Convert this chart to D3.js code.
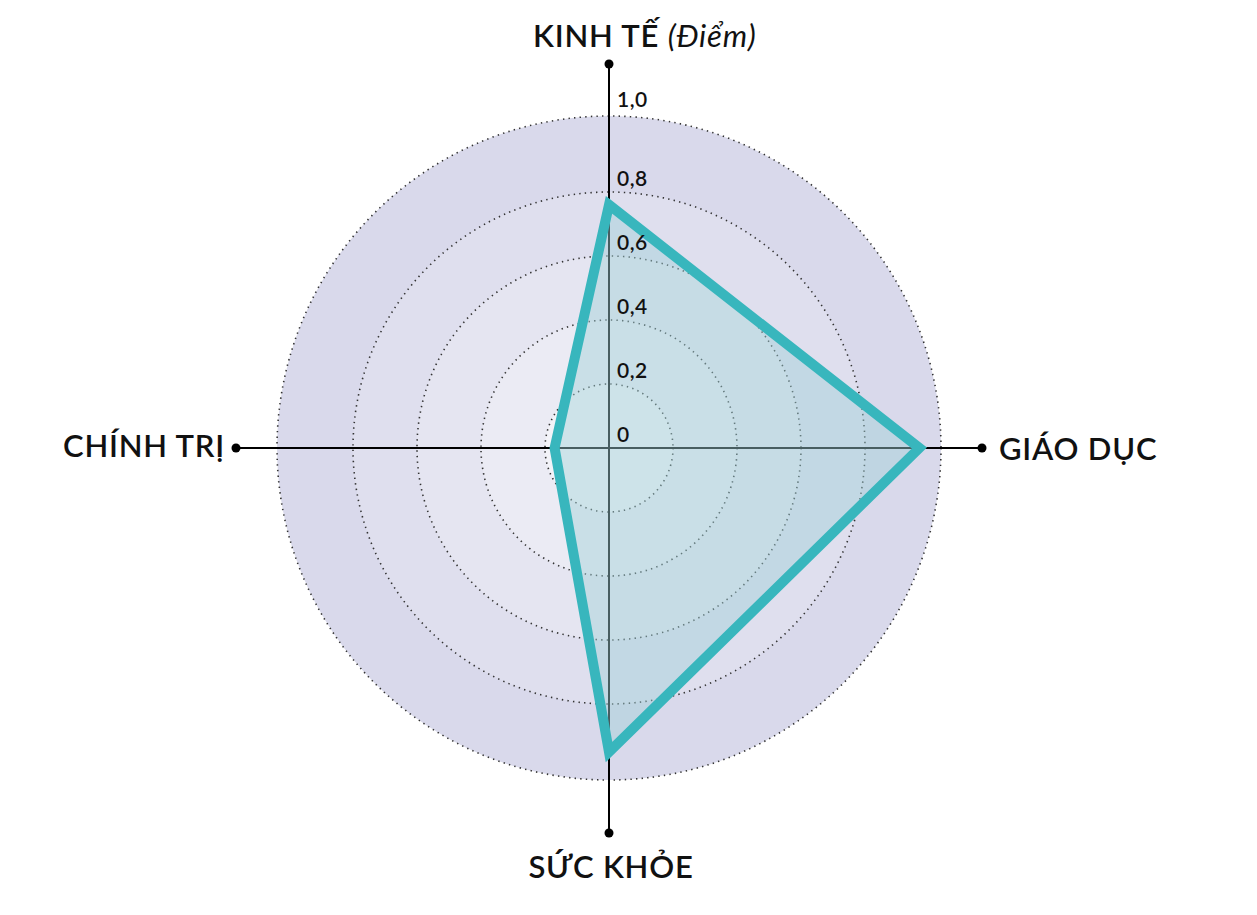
<!DOCTYPE html>
<html>
<head>
<meta charset="utf-8">
<script src="https://cdn.jsdelivr.net/npm/d3@7"></script>
<style>
  body { margin: 0; background: #fff; }
  svg { display: block; }
  text { font-family: "Lato", "Noto Sans", sans-serif; fill: #111; }
  text.cat { font-size: 31px; font-weight: 600; letter-spacing: 0.8px; }
</style>
</head>
<body>
<div class="chart"></div>
<script>
// du lieu
var categories = ["KINH TẾ", "GIÁO DỤC", "SỨC KHỎE", "CHÍNH TRỊ"]
var values = [0.76, 0.97, 0.95, 0.17]
var ticks = [0, 0.2, 0.4, 0.6, 0.8, 1.0]
var tickLabels = ["0", "0,2", "0,4", "0,6", "0,8", "1,0"]
var bandColors = ["#f3f3f8", "#ebebf4", "#e5e5f1", "#dfdfee", "#d9d9eb"]

var W = 1257, H = 915
var cx = 609, cy = 448
var outerR = 332

var svg = d3.select(".chart").append("svg").attr("width", W).attr("height", H)
var g = svg.append("g").attr("transform", "translate(" + cx + "," + cy + ")")

var r = d3.scaleLinear().domain([0, 1]).range([0, 320])
var angle = d3.scaleLinear().domain([0, categories.length]).range([0, 2 * Math.PI])

// nen: cac vong tu ngoai vao trong
var bandR = [outerR].concat(ticks.slice(1, 5).map(r).reverse())
g.selectAll("circle.band").data(bandR).enter()
  .append("circle").attr("class", "band")
  .attr("r", function(d) { return d })
  .style("fill", function(d, i) { return bandColors[bandColors.length - 1 - i] })

// vong cham
g.selectAll("circle.ring").data(bandR).enter()
  .append("circle").attr("class", "ring")
  .attr("r", function(d) { return d })
  .style("fill", "none")
  .attr("stroke", "#333")
  .attr("stroke-width", 1.6)
  .attr("stroke-dasharray", "1.4 4.2")

// truc
var axisLen = [384, 373, 385, 373]
var axes = g.selectAll("g.axis").data(categories).enter().append("g").attr("class", "axis")
axes.append("line")
  .attr("x1", 0).attr("y1", 0)
  .attr("x2", function(d, i) { return axisLen[i] * Math.sin(angle(i)) })
  .attr("y2", function(d, i) { return -axisLen[i] * Math.cos(angle(i)) })
  .attr("stroke", "#000").attr("stroke-width", 2)
axes.append("circle")
  .attr("cx", function(d, i) { return axisLen[i] * Math.sin(angle(i)) })
  .attr("cy", function(d, i) { return -axisLen[i] * Math.cos(angle(i)) })
  .attr("r", 4.5).style("fill", "#000")

// da giac
var line = d3.lineRadial()
  .angle(function(d, i) { return angle(i) })
  .radius(function(d) { return r(d) })
  .curve(d3.curveLinearClosed)

g.append("path").datum(values)
  .attr("d", line)
  .style("fill", "#9fd0d8")
  .style("fill-opacity", 0.45)
  .attr("stroke", "#38b6bd")
  .attr("stroke-width", 10)
  .attr("stroke-linejoin", "miter")
  .attr("stroke-miterlimit", 10)

// nhan truc doc
g.selectAll("text.tick").data(ticks).enter()
  .append("text").attr("class", "tick")
  .attr("x", 8)
  .attr("y", function(d, i) { return i == ticks.length - 1 ? -(outerR + 9) : -r(d) - 6 })
  .style("font-size", "21px").style("font-weight", 600).style("letter-spacing", "0.5px")
  .text(function(d, i) { return tickLabels[i] })

// nhan danh muc
var topLabel = g.append("text").attr("class", "cat").attr("x", -76).attr("y", -401)
topLabel.append("tspan").text(categories[0] + " ")
topLabel.append("tspan").style("font-style", "italic").style("font-weight", 400).text("(Điểm)")

g.append("text").attr("class", "cat").attr("x", 390).attr("y", 12)
  .text(categories[1])
g.append("text").attr("class", "cat").attr("x", 2).attr("y", 430).attr("text-anchor", "middle")
  .text(categories[2])
g.append("text").attr("class", "cat").attr("x", -384).attr("y", 9).attr("text-anchor", "end")
  .text(categories[3])
</script>
</body>
</html>
